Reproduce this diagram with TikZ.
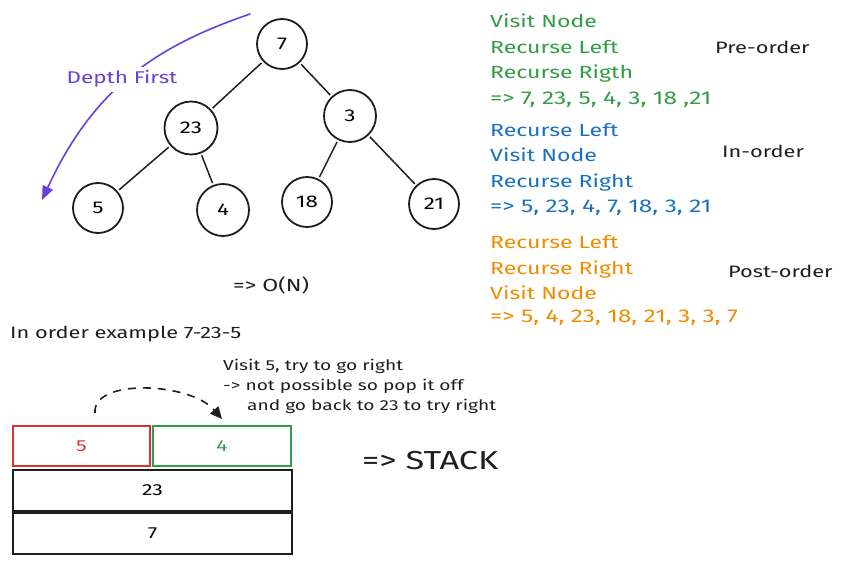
\documentclass[tikz,border=0pt]{standalone}
\usepackage{fontspec}
\setmainfont{Fira Sans}[FakeStretch=1.32]
\usetikzlibrary{arrows.meta}
\definecolor{xgreen}{HTML}{2F9E44}
\definecolor{xblue}{HTML}{1971C2}
\definecolor{xorange}{HTML}{F08C00}
\definecolor{xred}{HTML}{E03131}
\definecolor{xviolet}{HTML}{6741D9}
\definecolor{xblack}{HTML}{1E1E1E}
\tikzset{
  tnode/.style={circle,draw=xblack,line width=1.8pt,minimum size=50pt,inner sep=0pt,font=\fontsize{17}{20}\selectfont},
  tedge/.style={draw=xblack,line width=1.5pt,shorten <=2pt,shorten >=2pt},
  txt/.style={anchor=base west,inner sep=0pt,font=\fontsize{17.5}{21}\selectfont},
  lbl/.style={anchor=base west,inner sep=0pt,font=\fontsize{16.5}{20}\selectfont,text=xblack},
  seq/.style={anchor=base west,inner sep=0pt,font=\fontsize{18.5}{21}\selectfont},
  small/.style={anchor=base west,inner sep=0pt,font=\fontsize{14.5}{17}\selectfont,text=xblack},
  sbox/.style={rectangle,draw=xblack,line width=1.6pt,inner sep=0pt,font=\fontsize{16}{19}\selectfont}
}
\begin{document}
\begin{tikzpicture}[x=1pt,y=-1pt]
\useasboundingbox (0,0) rectangle (843,564);
% tree
\node[tnode] (n7) at (282,44) {7};
\node[tnode,minimum size=53pt] (n23) at (191,128) {23};
\node[tnode,minimum size=52pt] (n3) at (350,116) {3};
\node[tnode] (n5) at (98,208) {5};
\node[tnode,minimum size=52pt] (n4) at (223,210) {4};
\node[tnode] (n18) at (307,202) {18};
\node[tnode] (n21) at (434,204) {21};
\draw[tedge] (n7) -- (n23);
\draw[tedge] (n7) -- (n3);
\draw[tedge] (n23) -- (n5);
\draw[tedge] (n23) -- (n4);
\draw[tedge] (n3) -- (n18);
\draw[tedge] (n3) -- (n21);
% depth first arrow
\coordinate (ds) at (250,14);
\coordinate (de) at (42,200);
\draw[xviolet,line width=1.6pt,line cap=round,-{Triangle[length=14pt,width=11pt]}] (ds) .. controls (160,45) and (95,85) .. (de);
\node[anchor=base,fill=white,inner sep=4pt,text=xviolet,font=\fontsize{17}{20}\selectfont] (df) at (122,84) {Depth First};
% pre-order
\node[txt,text=xgreen] (g1) at (490,28) {Visit Node};
\node[txt,text=xgreen] (g2) at (490,54) {Recurse Left};
\node[txt,text=xgreen] (g3) at (490,79) {Recurse Rigth};
\node[seq,text=xgreen] (g4) at (490,105) {=> 7, 23, 5, 4, 3, 18 ,21};
\node[lbl] (pre) at (715,54) {Pre-order};
% in-order
\node[txt,text=xblue] (b1) at (490,137) {Recurse Left};
\node[txt,text=xblue] (b2) at (490,162) {Visit Node};
\node[txt,text=xblue] (b3) at (490,188) {Recurse Right};
\node[seq,text=xblue] (b4t) at (490,212) {=> 5, 23, 4, 7, 18, 3, 21};
\node[lbl] (ino) at (722,158) {In-order};
% post-order
\node[txt,text=xorange] (o1) at (490,248) {Recurse Left};
\node[txt,text=xorange] (o2) at (490,274) {Recurse Right};
\node[txt,text=xorange] (o3) at (490,299) {Visit Node};
\node[seq,text=xorange] (o4) at (490,322) {=> 5, 4, 23, 18, 21, 3, 3, 7};
\node[lbl] (post) at (728,277) {Post-order};
% complexity
\node[txt,text=xblack] (on) at (233,291) {=> O(N)};
\node[txt,text=xblack,font=\fontsize{16.5}{19}\selectfont] (ex) at (10,338) {In order example 7-23-5};
\node[small] (a1) at (223,370) {Visit 5, try to go right};
\node[small] (a2) at (223,390) {-> not possible so pop it off};
\node[small] (a3) at (247,410) {and go back to 23 to try right};
% stack
\node[sbox,draw=xred,text=xred,minimum width=137pt,minimum height=40pt] (s5) at (81.5,446) {5};
\node[sbox,draw=xgreen,text=xgreen,minimum width=138pt,minimum height=40pt] (s4) at (222,446) {4};
\node[sbox,minimum width=279pt,minimum height=41pt] (s23) at (152.5,490.5) {23};
\node[sbox,minimum width=279pt,minimum height=41pt] (s7) at (152.5,533.5) {7};
\coordinate (das) at (95,413);
\coordinate (dae) at (222,419);
\draw[xblack,line width=1.6pt,dash pattern=on 8pt off 7pt,-{Triangle[length=12pt,width=11pt]}] (das) .. controls (92,378) and (190,382) .. (dae);
\node[anchor=base west,inner sep=0pt,text=xblack,font=\fontsize{26}{30}\selectfont] (stack) at (362,469) {=> STACK};
\end{tikzpicture}
\end{document}
